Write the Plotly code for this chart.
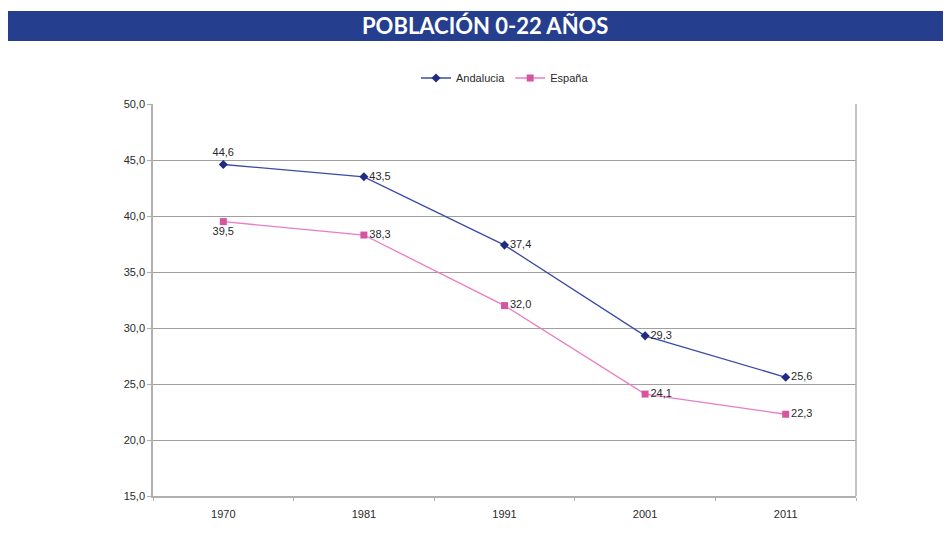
import plotly.graph_objects as go

years = ["1970", "1981", "1991", "2001", "2011"]
andalucia = [44.6, 43.5, 37.4, 29.3, 25.6]
espana = [39.5, 38.3, 32.0, 24.1, 22.3]

andalucia_pos = ["top center", "middle right", "middle right", "middle right", "middle right"]
espana_pos = ["bottom center", "middle right", "middle right", "middle right", "middle right"]

fig = go.Figure()

fig.add_trace(go.Scatter(
    x=years, y=andalucia, name="Andalucia",
    mode="lines+markers+text",
    line=dict(color="#3b4aa6", width=1.3),
    marker=dict(symbol="diamond", size=7, color="#1f2b85"),
    texttemplate="%{y:.1f}", textposition=andalucia_pos,
    textfont=dict(size=11, color="#2a2a2a"),
))

fig.add_trace(go.Scatter(
    x=years, y=espana, name="España",
    mode="lines+markers+text",
    line=dict(color="#ea7cc4", width=1.3),
    marker=dict(symbol="square", size=7, color="#d5559f"),
    texttemplate="%{y:.1f}", textposition=espana_pos,
    textfont=dict(size=11, color="#2a2a2a"),
))

# the page adds an 8px body margin, so the figure is drawn 8px smaller
# and the plot area is placed 8px up/left to land where the reference has it
W, H = 943, 533
L, R, T, B = 145, 95, 96, 45
pw, ph = W - L - R, H - T - B


def px_x(x):
    return (x - 8 - L) / pw


def px_y(y):
    return (H - B - (y - 8)) / ph


# title band
fig.add_shape(type="rect", xref="paper", yref="paper",
              x0=px_x(8), x1=px_x(951), y0=px_y(41), y1=px_y(11),
              fillcolor="#253f8e", line=dict(width=0), layer="above")
fig.add_annotation(text="<b>POBLACIÓN 0-22 AÑOS</b>", xref="paper", yref="paper",
                   x=px_x(485), y=px_y(25), xanchor="center", yanchor="middle",
                   showarrow=False,
                   font=dict(family="Lato, Open Sans, sans-serif", size=22, color="white"))

# right frame of plot area
fig.add_shape(type="line", xref="paper", yref="paper", x0=1, x1=1, y0=0, y1=1,
              line=dict(color="#b0b0b0", width=1.5))

fig.update_layout(
    width=W, height=H,
    margin=dict(l=L, r=R, t=T, b=B),
    paper_bgcolor="white", plot_bgcolor="white",
    separators=",.",
    font=dict(family="Liberation Sans, Arial, sans-serif", size=11, color="#2a2a2a"),
    showlegend=True,
    legend=dict(orientation="h", x=px_x(505), xanchor="center", y=px_y(78), yanchor="middle",
                bgcolor="rgba(0,0,0,0)", font=dict(size=11, color="#2a2a2a")),
    xaxis=dict(type="category", range=[-0.5, 4.5], showline=True, linecolor="#b0b0b0",
               linewidth=1.5, showgrid=False, ticks="outside", tickson="boundaries",
               ticklen=3, tickcolor="#b0b0b0", tickfont=dict(size=11),
               ticklabelstandoff=7),
    yaxis=dict(range=[15, 50], dtick=5, tickformat=".1f", showline=True,
               linecolor="#b0b0b0", linewidth=1.5, gridcolor="#a0a0a0", gridwidth=1,
               ticks="outside", ticklen=4, tickcolor="#b0b0b0", zeroline=False,
               tickfont=dict(size=11)),
)

fig.write_html("out.html")
